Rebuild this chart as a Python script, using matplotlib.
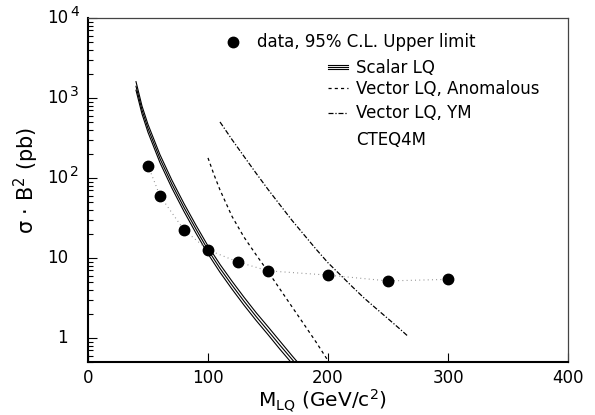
import matplotlib
matplotlib.use("Agg")
import matplotlib.pyplot as plt

# 95% C.L. upper limits
m_data = [50, 60, 80, 100, 125, 150, 200, 250, 300]
sig_data = [143, 59.6, 22.4, 12.6, 8.9, 6.9, 6.1, 5.16, 5.4]

# scalar LQ band (three lines)
m_scalar = [40, 45, 50, 60, 70, 80, 90, 100, 110, 120, 130, 140, 150, 160, 170, 175]
sig_scalar_hi = [1600, 793, 467, 195, 93.2, 47.8, 25.6, 14.1, 8.3, 5.12, 3.23, 2.08, 1.38, 0.91, 0.60, 0.49]
sig_scalar_mid = [1400, 708, 417, 174, 83.2, 42.7, 22.9, 12.6, 7.41, 4.57, 2.88, 1.86, 1.23, 0.81, 0.54, 0.44]
sig_scalar_lo = [1250, 632, 372, 155, 74.3, 38.1, 20.4, 11.25, 6.62, 4.08, 2.57, 1.66, 1.10, 0.72, 0.48, 0.39]

# vector LQ, anomalous coupling
m_anom = [100, 105, 110, 120, 130, 140, 150, 160, 170, 180, 190, 200]
sig_anom = [178, 110, 70.8, 33.1, 18.2, 11.0, 6.76, 4.07, 2.45, 1.48, 0.89, 0.52]

# vector LQ, Yang-Mills coupling
m_ym = [110, 120, 130, 140, 150, 160, 170, 180, 190, 200, 210, 220, 230, 240, 250, 260, 266]
sig_ym = [501, 302, 186, 115, 72, 46, 29.5, 19.5, 12.9, 8.7, 6.2, 4.4, 3.16, 2.34, 1.74, 1.29, 1.07]

ytick_vals = [1, 10, 100, 1000, 10000]
ytick_base = ["1", "10", "10", "10", "10"]
ytick_exp = ["", "", "2", "3", "4"]

fig = plt.figure(figsize=(5.95, 4.15), dpi=100)
ax = fig.add_axes([88 / 595, 1 - 362 / 415, 480 / 595, 344 / 415])

for s in (sig_scalar_hi, sig_scalar_mid, sig_scalar_lo):
    ax.plot(m_scalar, s, color="black", lw=0.8)
ax.plot(m_anom, sig_anom, color="black", lw=0.9, dashes=(2.5, 2.5))
ax.plot(m_ym, sig_ym, color="black", lw=0.9, dashes=(4, 1.5, 1, 1.5))
ax.plot(m_data, sig_data, color="#888888", lw=0.8, dashes=(0.8, 3))
ax.plot(m_data, sig_data, "o", color="black", ms=7.5, ls="none")

ax.set_yscale("log")
ax.set_xlim(0, 400)
ax.set_ylim(0.5, 1e4)
ax.set_xticks([0, 100, 200, 300, 400])
ax.set_xticks([], minor=True)
ax.tick_params(axis="x", which="major", direction="in", length=6.5, width=0.8,
               labelsize=12, pad=5, top=False)
ax.tick_params(axis="y", which="major", direction="in", length=6.5, width=0.8,
               labelleft=False, right=False)
ax.tick_params(axis="y", which="minor", direction="in", length=3.6, width=0.8,
               right=False)
ax.set_yticks(ytick_vals)

for v, b, e in zip(ytick_vals, ytick_base, ytick_exp):
    ax.annotate(b, xy=(0, v), xycoords=("axes fraction", "data"),
                xytext=(-14.4, 0), textcoords="offset points",
                ha="right", va="center", fontsize=12)
    if e:
        ax.annotate(e, xy=(0, v), xycoords=("axes fraction", "data"),
                    xytext=(-13.0, 4.3), textcoords="offset points",
                    ha="left", va="center", fontsize=10)

for side in ("left", "bottom"):
    ax.spines[side].set_linewidth(1.5)
for side in ("top", "right"):
    ax.spines[side].set_linewidth(0.9)
    ax.spines[side].set_color("#444444")

ax.text(0.4875, -0.114, r"M$_\mathregular{LQ}$ (GeV/c$^\mathregular{2}$)",
        transform=ax.transAxes, ha="center", va="center", fontsize=14.5)
ax.text(-0.129, 0.529, "σ · B$^\\mathregular{2}$ (pb)", rotation=90,
        transform=ax.transAxes, ha="center", va="center", fontsize=15)

# legend
ax.plot([0.302], [0.930], "o", color="black", ms=7.5, transform=ax.transAxes)
ax.text(0.352, 0.931, "data, 95% C.L. Upper limit", transform=ax.transAxes,
        ha="left", va="center", fontsize=12)
for dy in (-0.006, 0.0, 0.006):
    ax.plot([0.5, 0.542], [0.857 + dy] * 2, color="black", lw=0.8,
            transform=ax.transAxes)
ax.text(0.558, 0.856, "Scalar LQ", transform=ax.transAxes,
        ha="left", va="center", fontsize=12)
ax.plot([0.5, 0.542], [0.797] * 2, color="black", lw=0.9, dashes=(2.5, 2.5),
        transform=ax.transAxes)
ax.text(0.558, 0.793, "Vector LQ, Anomalous", transform=ax.transAxes,
        ha="left", va="center", fontsize=12)
ax.plot([0.5, 0.542], [0.725] * 2, color="black", lw=0.9, dashes=(4, 1.5, 1, 1.5),
        transform=ax.transAxes)
ax.text(0.558, 0.725, "Vector LQ, YM", transform=ax.transAxes,
        ha="left", va="center", fontsize=12)
ax.text(0.558, 0.645, "CTEQ4M", transform=ax.transAxes,
        ha="left", va="center", fontsize=12)

fig.savefig("out.png", dpi=100)
